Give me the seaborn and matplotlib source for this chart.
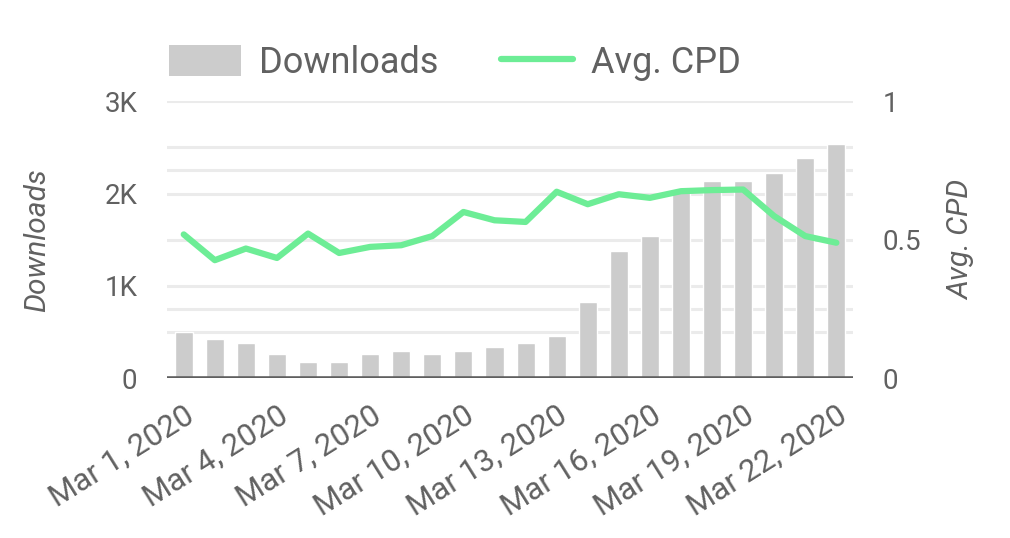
import matplotlib
matplotlib.use("Agg")
import matplotlib.pyplot as plt
import seaborn as sns
import pandas as pd
import numpy as np
from matplotlib.patches import Patch
from matplotlib.lines import Line2D

days = [f"Mar {d}, 2020" for d in range(1, 23)]
downloads = [500, 420, 380, 260, 180, 180, 260, 300, 260, 300, 340, 380,
             460, 820, 1380, 1540, 2050, 2130, 2130, 2220, 2380, 2540]
avg_cpd = [0.519, 0.426, 0.468, 0.434, 0.522, 0.452, 0.474, 0.480, 0.513,
           0.600, 0.570, 0.564, 0.673, 0.628, 0.664, 0.651, 0.675, 0.679,
           0.681, 0.585, 0.513, 0.489]
left_ticks = [0, 1000, 2000, 3000]
left_labels = ["0", "1K", "2K", "3K"]
right_ticks = [0, 0.5, 1]
right_labels = ["0", "0.5", "1"]

df = pd.DataFrame({"day": days, "idx": np.arange(len(days)),
                   "Downloads": downloads, "Avg. CPD": avg_cpd})

sns.set_theme(style="white")
plt.rcParams["font.family"] = ["Roboto", "DejaVu Sans"]
TXT = "#616161"
BAR = "#cccccc"
LINE = "#6ded96"
GRID = "#ebebeb"

fig = plt.figure(figsize=(10.10, 5.38), dpi=100)
ax = fig.add_axes([0.165, 0.297, 0.68, 0.515])
sns.barplot(data=df, x="day", y="Downloads", color=BAR, width=0.58,
            saturation=1, ax=ax, zorder=2)
ax.set_xlim(-0.55, 21.55)
ax.set_ylim(0, 3000)
ax.set_yticks(left_ticks)
ax.set_yticklabels(left_labels)
# gridlines: left axis every 500, right axis every 0.25
rmax = 1.0
grid_vals = sorted(set([v for v in range(0, 3001, 500)] +
                       [r * 3000 / rmax for r in (0.25, 0.75)]))
for g in grid_vals:
    if g > 0:
        ax.axhline(g, color=GRID, lw=2.2, zorder=0)
ax.axhline(0, color="#5f5f5f", lw=2.6, zorder=3)
for s in ax.spines.values():
    s.set_visible(False)
ax.tick_params(axis="both", length=0, colors=TXT, labelsize=20)
ax.tick_params(axis="y", pad=21)
ax.set_xticks(range(0, 22, 3))
ax.set_xticklabels([days[i] for i in range(0, 22, 3)], rotation=32,
                   ha="right", rotation_mode="anchor", fontsize=22.5,
                   color=TXT)
ax.tick_params(axis="x", pad=16)
ax.set_xlabel("")
ax.set_ylabel("Downloads", fontsize=21.5, style="italic", color=TXT,
              va="center", ha="center")
ax.yaxis.set_label_coords(-0.189, 0.5)

ax2 = ax.twinx()
sns.lineplot(data=df, x="idx", y="Avg. CPD", color=LINE, lw=4.5, ax=ax2,
             zorder=4)
ax2.set_xlim(-0.55, 21.55)
ax2.set_ylim(0, rmax)
ax2.set_yticks(right_ticks)
ax2.set_yticklabels(right_labels)
for s in ax2.spines.values():
    s.set_visible(False)
ax2.tick_params(axis="y", length=0, colors=TXT, labelsize=20, pad=21)
ax2.set_ylabel("Avg. CPD", fontsize=21.5, style="italic", color=TXT,
               va="center", ha="center")
ax2.yaxis.set_label_coords(1.1575, 0.5)
ax2.grid(False)
ax.grid(False)

handles = [Patch(facecolor=BAR, edgecolor="none"),
           Line2D([0], [0], color=LINE, lw=4.5)]
leg = fig.legend(handles, ["Downloads", "Avg. CPD"], loc="center left",
                 bbox_to_anchor=(0.135, 0.883), ncol=2, frameon=False,
                 fontsize=26, handlelength=2.0, handleheight=0.97,
                 handletextpad=0.5, columnspacing=1.72, labelcolor=TXT)

fig.savefig("out.png", dpi=100)
